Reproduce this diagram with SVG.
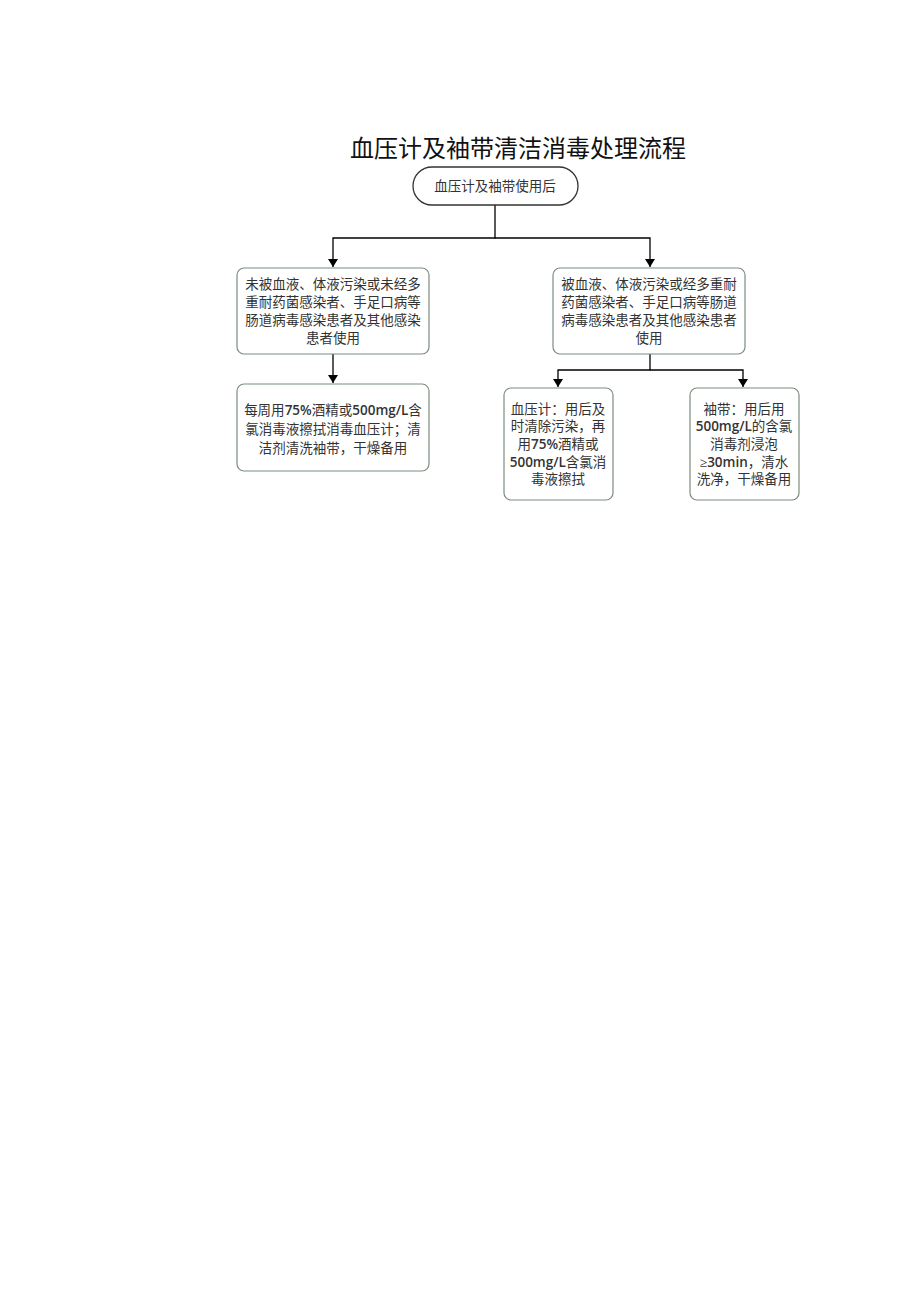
<svg xmlns="http://www.w3.org/2000/svg" width="920" height="1301" viewBox="0 0 920 1301">
<style>
.t{font-family:"Liberation Serif","Noto Sans CJK SC",serif;fill:#333;text-anchor:middle;font-size:13.5px}
.n{font-family:"Open Sans","Liberation Sans",sans-serif;font-weight:600}
.box{fill:#fff;stroke:#7d8d7d;stroke-width:1.2}
.c{fill:none;stroke:#000;stroke-width:1.3}
</style>
<defs>
<marker id="a" markerWidth="10" markerHeight="10" refX="8" refY="5" orient="auto" markerUnits="userSpaceOnUse" viewBox="0 0 10 10">
<path d="M0,0 L8,5 L0,10 Z" fill="#000"/>
</marker>
</defs>
<rect width="920" height="1301" fill="#fff"/>
<text x="518" y="157" style="font-family:'Liberation Serif','Noto Sans CJK SC',serif;font-size:24px;fill:#111;text-anchor:middle">血压计及袖带清洁消毒处理流程</text>
<g id="connectors">
<path class="c" d="M495,205 V238 H333 V267" marker-end="url(#a)"/>
<path class="c" d="M495,238 H650 V267" marker-end="url(#a)"/>
<path class="c" d="M333,354 V383" marker-end="url(#a)"/>
<path class="c" d="M650,354 V370 H558 V387" marker-end="url(#a)"/>
<path class="c" d="M650,370 H743 V387" marker-end="url(#a)"/>
</g>
<g id="start">
<rect x="413" y="167" width="165" height="38" rx="19" fill="#fff" stroke="#333" stroke-width="1.3"/>
<text class="t" x="495" y="191">血压计及袖带使用后</text>
</g>
<g id="left1">
<rect class="box" x="237" y="268" width="192" height="86" rx="7"/>
<text class="t" x="333" y="289">未被血液、体液污染或未经多</text>
<text class="t" x="333" y="307">重耐药菌感染者、手足口病等</text>
<text class="t" x="333" y="325">肠道病毒感染患者及其他感染</text>
<text class="t" x="333" y="343">患者使用</text>
</g>
<g id="right1">
<rect class="box" x="553" y="268" width="192" height="86" rx="7"/>
<text class="t" x="649" y="289">被血液、体液污染或经多重耐</text>
<text class="t" x="649" y="307">药菌感染者、手足口病等肠道</text>
<text class="t" x="649" y="325">病毒感染患者及其他感染患者</text>
<text class="t" x="649" y="343">使用</text>
</g>
<g id="left2">
<rect class="box" x="237" y="384" width="192" height="87" rx="7"/>
<text class="t" x="333" y="415">每周用<tspan class="n">75%</tspan>酒精或<tspan class="n">500mg/L</tspan>含</text>
<text class="t" x="333" y="434">氯消毒液擦拭消毒血压计；清</text>
<text class="t" x="333" y="453">洁剂清洗袖带，干燥备用</text>
</g>
<g id="right2a">
<rect class="box" x="504" y="388" width="109" height="112" rx="7"/>
<text class="t" x="558" y="414">血压计：用后及</text>
<text class="t" x="558" y="431">时清除污染，再</text>
<text class="t" x="558" y="449">用<tspan class="n">75%</tspan>酒精或</text>
<text class="t" x="558" y="467"><tspan class="n">500mg/L</tspan>含氯消</text>
<text class="t" x="558" y="484">毒液擦拭</text>
</g>
<g id="right2b">
<rect class="box" x="690" y="388" width="109" height="112" rx="7"/>
<text class="t" x="744" y="414">袖带：用后用</text>
<text class="t" x="744" y="431"><tspan class="n">500mg/L</tspan>的含氯</text>
<text class="t" x="744" y="449">消毒剂浸泡</text>
<text class="t" x="744" y="467">≥<tspan class="n">30min</tspan>，清水</text>
<text class="t" x="744" y="484">洗净，干燥备用</text>
</g>
</svg>
